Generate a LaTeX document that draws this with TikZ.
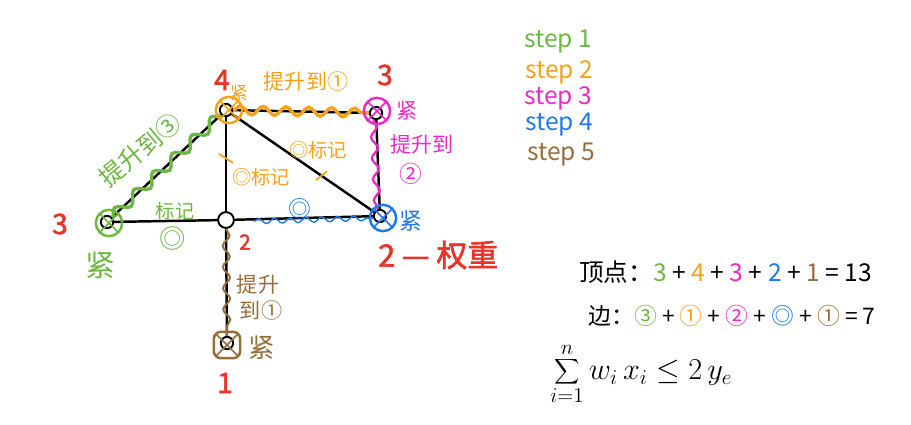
\documentclass[tikz,border=0pt]{standalone}
\usepackage{fontspec}
\setmainfont{Noto Sans CJK SC}
\newfontfamily\dick[FakeBold=2]{Noto Sans CJK SC}
\usepackage{xcolor}
\usepackage{tikz}
\usetikzlibrary{decorations.pathmorphing}
\usetikzlibrary{calc}
\definecolor{gruen}{RGB}{108,184,66}
\definecolor{orange}{RGB}{250,160,20}
\definecolor{pink}{RGB}{238,40,200}
\definecolor{blau}{RGB}{30,120,240}
\definecolor{braun}{RGB}{150,108,58}
\definecolor{rot}{RGB}{234,52,42}
\tikzset{
  Knoten/.style={circle,draw,line width=1.1pt,minimum size=7pt,inner sep=0pt}, % Ecke
  Fest/.style={circle,draw=#1,line width=1.4pt,minimum size=15pt,inner sep=0pt,
    path picture={\draw[#1,line width=0.9pt]
      (path picture bounding box.north west) -- (path picture bounding box.south east)
      (path picture bounding box.north east) -- (path picture bounding box.south west);}}, % enge Ecke
  FestEck/.style={Fest=#1,rectangle,rounded corners=4pt,minimum size=15pt},
  Welle/.style 2 args={decorate,decoration={snake,amplitude=#1,segment length=#2}}, % Welle
  Gewicht/.style={text=rot,font=\dick\fontsize{16}{16}\selectfont}, % Gewichte
  Notiz/.style={font=\fontsize{#1}{#1}\selectfont,inner sep=0pt}
}

\begin{document}
\begin{tikzpicture}[x=0.02cm,y=-0.02cm,
Kante/.style={line width=1.4pt}
]
\useasboundingbox (0,0) rectangle (911,424);

%Knoten
\node[Knoten] (Kl) at (107,222) {};
\node[Knoten,fill=white,minimum size=9pt] (Km) at (226,220) {};
\node[Knoten] (Ko) at (226,110) {};
\node[Knoten] (Kor) at (376,113) {};
\node[Knoten] (Kr) at (380,216) {};
\node[Knoten] (Ku) at (227,343) {};

%Kanten
\draw[Kante] (Kl) -- (Km);
\draw[Kante] (Kl) -- (Ko);
\draw[Kante] (Km) -- (Ko);
\draw[Kante] (Ko) -- (Kor);
\draw[Kante] (Ko) -- (Kr);
\draw[Kante] (Kor) -- (Kr);
\draw[Kante] (Km) -- (Kr);
\draw[Kante] (Km) -- (Ku);

%Wellen
\draw[Welle={3pt}{15pt},gruen,line width=1.9pt] (Kl) -- (Ko);
\draw[Welle={2.5pt}{13pt},orange,line width=1.9pt] (Ko) -- (Kor);
\draw[Welle={1.8pt}{12pt},pink,line width=1.3pt] ([xshift=-1.5pt]Kor.south) -- ([xshift=-1.5pt]Kr.north);
\coordinate (Bstart) at ($(Km)!0.18!(Kr)$);
\draw[Welle={1.4pt}{9pt},blau,line width=0.8pt] ([yshift=-1.2pt]Bstart) -- ([yshift=-1.2pt]Kr.west);
\draw[Welle={2pt}{12pt},braun,line width=1.1pt] (Km) -- (Ku);

%enge Ecken
\node[Fest=gruen] (Fl) at (109,223) {};
\node[Fest=orange] (Fo) at (229,110) {};
\node[Fest=pink] (For) at (377,111) {};
\node[Fest=blau] (Fr) at (383,218) {};
\node[FestEck=braun] (Fu) at (227,345) {};

%Markierungen
\draw[orange,line width=1pt] ($(Km)!0.56!(Ko)$) ++(-7,-4.5) -- ++(14,9);
\draw[orange,line width=1pt] ($(Ko)!0.62!(Kr)$) ++(-5.5,4.5) -- ++(11,-9);

%Gewichte
\node[Gewicht] (G3l) at (60,224) {3};
\node[Gewicht] (G4) at (222,80) {4};
\node[Gewicht] (G3r) at (385,75) {3};
\node[Gewicht,font=\dick\fontsize{12}{12}\selectfont] (G2m) at (245,242) {2};
\node[Gewicht] (G1) at (225,383) {1};
\node[Gewicht,anchor=west,font=\dick\fontsize{17.5}{17.5}\selectfont] (G2r) at (372,255) {2 — 权重};

%Beschriftungen
\node[Notiz=17,text=gruen] (T1) at (100,265) {紧};
\node[Notiz=14,text=gruen,rotate=40] (T2) at (140,150) {提升到③};
\node[Notiz=11,text=gruen] (T3) at (175,211) {标记};
\node[Notiz=15,text=gruen] (T4) at (173,238) {◎};
\node[Notiz=10,text=orange] (T5) at (239,93) {紧};
\node[Notiz=12,text=orange] (T6) at (306,81) {提升到①};
\node[Notiz=11,text=orange] (T7) at (261,177) {◎标记};
\node[Notiz=11,text=orange] (T8) at (318,150) {◎标记};
\node[Notiz=12,text=pink] (T9) at (407,111) {紧};
\node[Notiz=12,text=pink] (T10) at (422,145) {提升到};
\node[Notiz=13,text=pink] (T11) at (411,174) {②};
\node[Notiz=13,text=blau] (T12) at (300,209) {◎};
\node[Notiz=13,text=blau] (T13) at (411,221) {紧};
\node[Notiz=12,text=braun] (T14) at (258,285) {提升};
\node[Notiz=12,text=braun] (T15) at (261,310) {到①};
\node[Notiz=15,text=braun] (T16) at (262,348) {紧};

%Legende
\node[Notiz=14,text=gruen,anchor=west] (S1) at (524,42) {step 1};
\node[Notiz=14,text=orange,anchor=west] (S2) at (525,72) {step 2};
\node[Notiz=14,text=pink,anchor=west] (S3) at (524,98) {step 3};
\node[Notiz=14,text=blau,anchor=west] (S4) at (525,125) {step 4};
\node[Notiz=14,text=braun,anchor=west] (S5) at (527,155) {step 5};

%Rechnung
\node[Notiz=14,anchor=west] (Ecken) at (579,272) {顶点：\textcolor{gruen}{3} + \textcolor{orange}{4} + \textcolor{pink}{3} + \textcolor{blau}{2} + \textcolor{braun}{1} = 13};
\node[Notiz=13,anchor=west] (Kanten) at (588,316) {边：\textcolor{gruen}{③} + \textcolor{orange}{①} + \textcolor{pink}{②} + \textcolor{blau}{◎} + \textcolor{braun}{①} = 7};
\node[Notiz=18,anchor=west] (Formel) at (550,374) {$\displaystyle\sum_{i=1}^{n} w_i\, x_i \leq 2\, y_e$};

\end{tikzpicture}
\end{document}
